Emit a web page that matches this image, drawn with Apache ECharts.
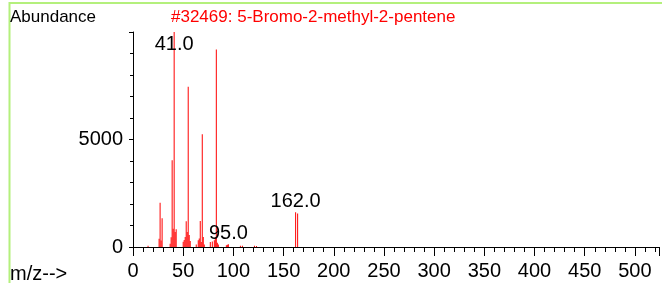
<!DOCTYPE html>
<html>
<head>
<meta charset="utf-8">
<script src="https://cdn.jsdelivr.net/npm/echarts@6/dist/echarts.min.js"></script>
<style>
  html, body { margin: 0; padding: 0; background: #fff; }
  #chart { width: 662px; height: 283px; }
</style>
</head>
<body>
<div id="chart"></div>
<script>
// m/z values and their abundance
var masses = [15, 26, 27, 28, 29, 37, 38, 39, 40, 41, 42, 43, 50, 51, 52, 53, 54, 55, 56, 57,
  63, 65, 66, 67, 68, 69, 70, 71, 77, 79, 81, 82, 83, 84, 85, 93, 94, 95, 107, 109, 121, 123, 162, 164];
var abundance = [60, 380, 2060, 300, 1340, 150, 450, 4040, 850, 9999, 700, 830, 250, 320, 460, 1200, 700, 7450, 560, 280,
  120, 310, 390, 1210, 230, 5250, 460, 120, 230, 260, 310, 450, 9190, 200, 120, 80, 110, 130, 60, 60, 60, 50, 1620, 1560];
// peaks that carry a label
var labelledMasses = [41, 95, 162];

var font = 'Liberation Sans, Arial, sans-serif';
var chart = echarts.init(document.getElementById('chart'));

var peaks = masses.map(function (m, i) {
  var item = { value: [m, abundance[i]] };
  if (labelledMasses.indexOf(m) >= 0) {
    item.label = {
      show: true,
      position: m === 41 ? 'insideTop' : 'top',
      distance: m === 41 ? 2 : 1,
      formatter: m.toFixed(1),
      color: '#000',
      fontSize: 20,
      fontFamily: font
    };
  }
  return item;
});

var tickLine = { color: '#000', width: 1 };

var option = {
  animation: false,
  grid: { left: 133, right: 0, top: 32, bottom: 36 },
  xAxis: {
    type: 'value', min: 0, max: 524, interval: 50,
    axisLine: { show: true, onZero: false, lineStyle: tickLine },
    axisTick: { show: true, inside: false, length: 9, lineStyle: tickLine },
    minorTick: { show: true, splitNumber: 5, length: 5, lineStyle: tickLine },
    axisLabel: {
      margin: 14, color: '#000', fontSize: 20, fontFamily: font,
      formatter: function (v) { return v % 50 === 0 ? String(v) : ''; }
    },
    splitLine: { show: false }
  },
  yAxis: {
    type: 'value', min: 0, max: 10000, interval: 5000,
    axisLine: { show: true, lineStyle: tickLine },
    axisTick: { show: true, length: 4, lineStyle: tickLine },
    minorTick: { show: true, splitNumber: 5, length: 3, lineStyle: tickLine },
    axisLabel: {
      margin: 10, color: '#000', fontSize: 20, fontFamily: font,
      formatter: function (v) { return v === 10000 ? '' : String(v); }
    },
    splitLine: { show: false }
  },
  series: [{
    type: 'bar',
    barWidth: 1,
    itemStyle: { color: '#ff0000' },
    data: peaks
  }],
  graphic: [
    { type: 'rect', shape: { x: 9.5, y: 3, width: 700, height: 300 },
      style: { fill: 'none', stroke: '#b4f07c', lineWidth: 2 } },
    { type: 'text', x: 10, y: 17,
      style: { text: 'Abundance', font: '17px ' + font, fill: '#000', textVerticalAlign: 'middle' } },
    { type: 'text', x: 171, y: 17,
      style: { text: '#32469: 5-Bromo-2-methyl-2-pentene', font: '17px ' + font, fill: '#ff0000', textVerticalAlign: 'middle' } },
    { type: 'text', x: 10, y: 274,
      style: { text: 'm/z-->', font: '20px ' + font, fill: '#000', textVerticalAlign: 'middle' } }
  ]
};
chart.setOption(option);
</script>
</body>
</html>
